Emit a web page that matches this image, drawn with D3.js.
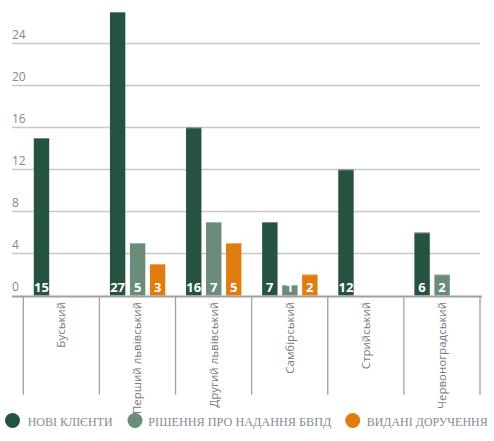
<!DOCTYPE html>
<html><head><meta charset="utf-8">
<script src="https://cdn.jsdelivr.net/npm/d3@7"></script>
<style>body{margin:0;background:#fff;}svg{display:block;}</style>
</head><body>
<svg id="c" width="494" height="441"></svg>
<script>
const categories = ["Буський","Перший львівський","Другий львівський","Самбірський","Стрийський","Червоноградський"];
const seriesNames = ["НОВІ КЛІЄНТИ","РІШЕННЯ ПРО НАДАННЯ БВПД","ВИДАНІ ДОРУЧЕННЯ"];
const newClients = [15,27,16,7,12,6];
const decisions = [0,5,7,1,0,2];
const orders = [0,3,5,2,0,0];
const yTicks = [0,4,8,12,16,20,24];
const colors = ["#25533f","#6b8c78","#e07c10"];

const series = [newClients, decisions, orders];
const svg = d3.select("#c");

const y = d3.scaleLinear().domain([0,24]).range([295.5,43.5]);
const x0 = d3.scaleBand().domain(categories).range([23.3,480]).padding(0);
const x1 = d3.scaleBand().domain(d3.range(3)).range([10.5,65.9]).paddingInner(0.23).paddingOuter(0);

// gridlines
svg.append("g").selectAll("line").data(yTicks.filter(t=>t>0)).join("line")
  .attr("x1",12).attr("x2",480).attr("y1",d=>y(d)).attr("y2",d=>y(d))
  .attr("stroke","#c8c8c8").attr("stroke-width",1.3);

// y tick labels
svg.append("g").selectAll("text").data(yTicks).join("text")
  .attr("x",12).attr("y",d=>y(d)-5)
  .attr("font-family","'Open Sans', sans-serif").attr("font-size",12)
  .attr("fill","#7f8897").text(d=>d);

// bars
const cat = svg.append("g").selectAll("g").data(categories).join("g")
  .attr("transform",d=>`translate(${x0(d)},0)`);
cat.each(function(c,i){
  const g = d3.select(this);
  series.forEach((s,k)=>{
    const v = s[i];
    if(!v) return;
    g.append("rect").attr("x",x1(k)).attr("width",x1.bandwidth())
      .attr("y",y(v)).attr("height",y(0)-y(v)).attr("fill",colors[k]);
    g.append("rect").attr("x",x1(k)).attr("width",x1.bandwidth())
      .attr("y",y(v)).attr("height",1).attr("fill","#fff").attr("opacity",0.35);
    g.append("text").attr("x",x1(k)+x1.bandwidth()/2).attr("y",292)
      .attr("text-anchor","middle").attr("font-family","'Open Sans', sans-serif")
      .attr("font-weight","bold").attr("font-size",13).attr("fill","#fff")
      .text(v);
  });
});

// axis line
svg.append("line").attr("x1",12).attr("x2",482).attr("y1",296.5).attr("y2",296.5)
  .attr("stroke","#a0a0a0").attr("stroke-width",2);

// separators
const seps = categories.map(c=>x0(c)).concat([x0.range()[1]]);
svg.append("g").selectAll("line").data(seps).join("line")
  .attr("x1",d=>d).attr("x2",d=>d).attr("y1",296.5).attr("y2",394.7)
  .attr("stroke","#a0a0a0").attr("stroke-width",1.3);

// category labels
svg.append("g").selectAll("text").data(categories).join("text")
  .attr("transform",d=>`translate(${x0(d)+x0.bandwidth()/2+4},302) rotate(-90)`)
  .attr("text-anchor","end").attr("font-family","'Open Sans', sans-serif")
  .attr("font-size",11.5).attr("fill","#7a7a7a").text(d=>d);

// legend
const legX = [12.5,135,352.7];
const legTX = [27.7,148.3,366.7];
const legW = [85,183,121];
const leg = svg.append("g").selectAll("g").data(seriesNames).join("g");
leg.append("circle").attr("cx",(d,i)=>legX[i]).attr("cy",420.5).attr("r",7.5)
  .attr("fill",(d,i)=>colors[i]);
leg.append("text").attr("x",(d,i)=>legTX[i]).attr("y",426)
  .attr("font-family","'Liberation Serif', serif").attr("font-size",12.5)
  .attr("fill","#868b96")
  .attr("textLength",(d,i)=>legW[i]).attr("lengthAdjust","spacingAndGlyphs")
  .text(d=>d);
</script>
</body></html>
